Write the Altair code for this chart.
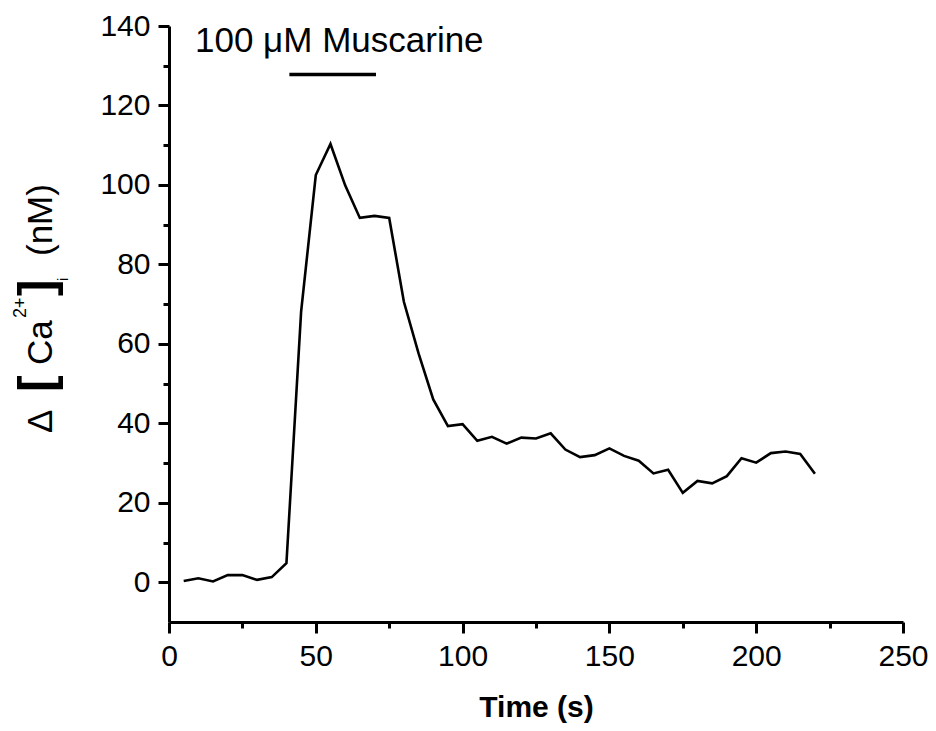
import altair as alt
import pandas as pd

# ---- data ----
time_s = [5, 10, 15, 20, 25, 30, 35, 40, 45, 50, 55, 60, 65, 70, 75, 80, 85, 90,
          95, 100, 105, 110, 115, 120, 125, 130, 135, 140, 145, 150, 155, 160,
          165, 170, 175, 180, 185, 190, 195, 200, 205, 210, 215, 220]
delta_ca = [0.3, 1.0, 0.2, 1.8, 1.8, 0.6, 1.3, 4.8, 68.1, 102.5, 110.3, 99.9,
            91.7, 92.2, 91.7, 70.6, 57.6, 46.0, 39.3, 39.8, 35.6, 36.6, 34.9,
            36.4, 36.2, 37.5, 33.4, 31.5, 32.0, 33.7, 31.8, 30.6, 27.4, 28.3,
            22.5, 25.5, 24.9, 26.7, 31.2, 30.1, 32.5, 32.9, 32.3, 27.3]

major_x = [0, 50, 100, 150, 200, 250]
minor_x = [25, 75, 125, 175, 225]
major_y = [0, 20, 40, 60, 80, 100, 120, 140]
minor_y = [10, 30, 50, 70, 90, 110, 130]

bar_start = [41]
bar_end = [70.5]
bar_level = [127.8]
label_text = ["100 \u03bcM Muscarine"]
label_x = [58]
label_y = [133.5]

# y-axis title pieces: delta, bracket, species, charge, bracket, subscript, unit
title_parts = ["\u0394", "[", "Ca", "2+", "]", "i", "(nM)"]

df = pd.DataFrame({"t": time_s, "ca": delta_ca})
bar_df = pd.DataFrame({"x1": bar_start, "x2": bar_end, "y": bar_level})
lab_df = pd.DataFrame({"x": label_x, "y": label_y, "text": label_text})

FONT = "Liberation Sans"
xscale = alt.Scale(domain=[0, 250], nice=False, zero=False)
yscale = alt.Scale(domain=[-10, 140], nice=False, zero=False)

common = dict(domainColor="black", domainWidth=3, tickColor="black", tickWidth=3,
              grid=False, labelFont=FONT, labelColor="black", labelFontSize=30,
              labelOverlap=False, labelFlush=False)

line = alt.Chart(df).mark_line(color="black", strokeWidth=2.6).encode(
    x=alt.X("t:Q", scale=xscale,
            axis=alt.Axis(orient="bottom", values=major_x, tickSize=11, labelPadding=8,
                          title="Time (s)", titleFont=FONT, titleFontSize=30,
                          titleFontWeight="bold", titleColor="black", titlePadding=21,
                          **common)),
    y=alt.Y("ca:Q", scale=yscale,
            axis=alt.Axis(orient="left", values=major_y, tickSize=11, labelPadding=8,
                          title=None, **common)),
)

minor = alt.Chart(df).mark_point(opacity=0).encode(
    x=alt.X("t:Q", scale=xscale,
            axis=alt.Axis(orient="bottom", values=minor_x, tickSize=6, labels=False,
                          domain=False, title=None, tickColor="black", tickWidth=3,
                          grid=False)),
    y=alt.Y("ca:Q", scale=yscale,
            axis=alt.Axis(orient="left", values=minor_y, tickSize=6, labels=False,
                          domain=False, title=None, tickColor="black", tickWidth=3,
                          grid=False)),
)

bar = alt.Chart(bar_df).mark_rule(color="black", strokeWidth=3.5).encode(
    x=alt.X("x1:Q", scale=xscale, axis=None), x2="x2:Q",
    y=alt.Y("y:Q", scale=yscale, axis=None))

label = alt.Chart(lab_df).mark_text(font=FONT, fontSize=35, color="black",
                                    align="center", baseline="alphabetic").encode(
    x=alt.X("x:Q", scale=xscale, axis=None), y=alt.Y("y:Q", scale=yscale, axis=None),
    text="text:N")


def piece(text, px, py, size, weight="normal"):
    return alt.Chart(pd.DataFrame({"s": [text]})).mark_text(
        font=FONT, fontSize=size, fontWeight=weight, color="black", angle=270,
        align="left", baseline="alphabetic").encode(
        x=alt.value(px), y=alt.value(py), text="s:N")


ytitle = [
    piece(title_parts[0], -117, 407, 35),
    piece(title_parts[1], -116, 366, 50, "bold"),
    piece(title_parts[2], -117, 339, 35),
    piece(title_parts[3], -143, 292, 18),
    piece(title_parts[4], -116, 270, 50, "bold"),
    piece(title_parts[5], -101, 255, 14),
    piece(title_parts[6], -117, 230, 35),
]

chart = alt.layer(line, minor, bar, label, *ytitle).resolve_axis(
    x="independent", y="independent"
).properties(
    width=734, height=596,
    autosize=alt.AutoSizeParams(type="none"),
    padding={"left": 169, "top": 26, "right": 33, "bottom": 109},
).configure(background="white").configure_view(strokeWidth=0, stroke="transparent")

chart.save("out.html", embed_options={"renderer": "svg", "actions": False})
